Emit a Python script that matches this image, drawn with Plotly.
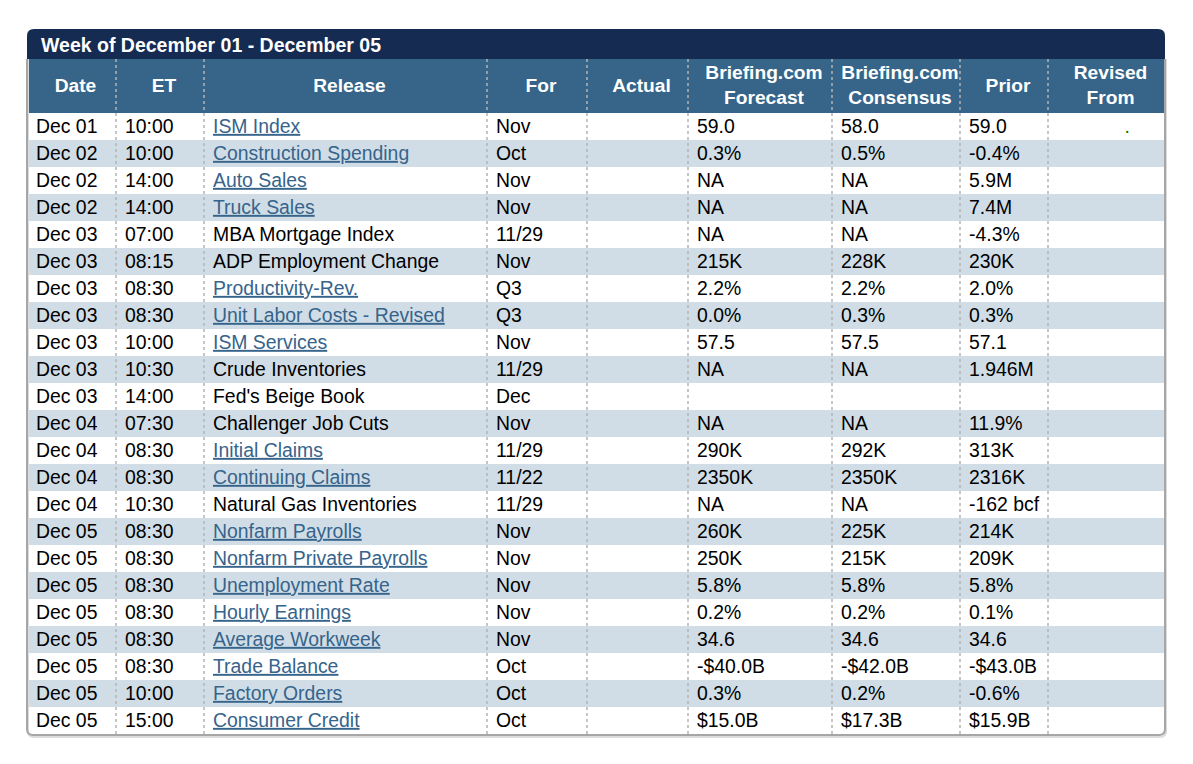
import plotly.graph_objects as go

# economic calendar, one entry per row
dates = ["Dec 01", "Dec 02", "Dec 02", "Dec 02", "Dec 03", "Dec 03", "Dec 03", "Dec 03",
         "Dec 03", "Dec 03", "Dec 03", "Dec 04", "Dec 04", "Dec 04", "Dec 04", "Dec 05",
         "Dec 05", "Dec 05", "Dec 05", "Dec 05", "Dec 05", "Dec 05", "Dec 05"]
times = ["10:00", "10:00", "14:00", "14:00", "07:00", "08:15", "08:30", "08:30",
         "10:00", "10:30", "14:00", "07:30", "08:30", "08:30", "10:30", "08:30",
         "08:30", "08:30", "08:30", "08:30", "08:30", "10:00", "15:00"]
releases = ["ISM Index", "Construction Spending", "Auto Sales", "Truck Sales",
            "MBA Mortgage Index", "ADP Employment Change", "Productivity-Rev.",
            "Unit Labor Costs - Revised", "ISM Services", "Crude Inventories",
            "Fed's Beige Book", "Challenger Job Cuts", "Initial Claims", "Continuing Claims",
            "Natural Gas Inventories", "Nonfarm Payrolls", "Nonfarm Private Payrolls",
            "Unemployment Rate", "Hourly Earnings", "Average Workweek", "Trade Balance",
            "Factory Orders", "Consumer Credit"]
is_link = [True, True, True, True, False, False, True, True, True, False, False, False,
           True, True, False, True, True, True, True, True, True, True, True]
periods = ["Nov", "Oct", "Nov", "Nov", "11/29", "Nov", "Q3", "Q3", "Nov", "11/29", "Dec",
           "Nov", "11/29", "11/22", "11/29", "Nov", "Nov", "Nov", "Nov", "Nov", "Oct",
           "Oct", "Oct"]
actual = ["", "", "", "", "", "", "", "", "", "", "", "", "", "", "", "", "", "", "", "",
          "", "", ""]
forecast = ["59.0", "0.3%", "NA", "NA", "NA", "215K", "2.2%", "0.0%", "57.5", "NA", "",
            "NA", "290K", "2350K", "NA", "260K", "250K", "5.8%", "0.2%", "34.6",
            "-$40.0B", "0.3%", "$15.0B"]
consensus = ["58.0", "0.5%", "NA", "NA", "NA", "228K", "2.2%", "0.3%", "57.5", "NA", "",
             "NA", "292K", "2350K", "NA", "225K", "215K", "5.8%", "0.2%", "34.6",
             "-$42.0B", "0.2%", "$17.3B"]
prior = ["59.0", "-0.4%", "5.9M", "7.4M", "-4.3%", "230K", "2.0%", "0.3%", "57.1",
         "1.946M", "", "11.9%", "313K", "2316K", "-162 bcf", "214K", "209K", "5.8%",
         "0.1%", "34.6", "-$43.0B", "-0.6%", "$15.9B"]
revised = [".", "", "", "", "", "", "", "", "", "", "", "", "", "", "", "", "", "", "",
           "", "", "", ""]

title = "Week of December 01 - December 05"
headers = ["Date", "ET", "Release", "For", "Actual", "Briefing.com<br>Forecast",
           "Briefing.com<br>Consensus", "Prior", "Revised<br>From"]

# layout (page pixels; the page body adds an 8px offset)
W, H = 1193, 764
OFF = 8
edges = [27, 116, 204, 487, 587, 688, 832, 960, 1048, 1165]
TITLE_TOP, HEAD_TOP, BODY_TOP, ROW_H = 29, 59, 113, 27
PAD = 9
FONT = "Liberation Sans, Arial, sans-serif"
NAVY = "#152b52"
STEEL = "#366589"
STRIPE = "#d0dde6"
LINK = "#36648b"

n = len(dates)
body_bottom = BODY_TOP + n * ROW_H
# text sits a touch below the geometric row centre
row_mid = [BODY_TOP + ROW_H * i + ROW_H / 2 + 1.5 for i in range(n)]

fig = go.Figure()

shapes = []
# zebra stripes
for i in range(n):
    if i % 2 == 1:
        shapes.append(dict(type="rect", xref="x", yref="y", x0=edges[0], x1=edges[-1],
                           y0=BODY_TOP + i * ROW_H, y1=BODY_TOP + (i + 1) * ROW_H,
                           fillcolor=STRIPE, line_width=0, layer="below"))
# header band
shapes.append(dict(type="rect", xref="x", yref="y", x0=edges[0], x1=edges[-1],
                   y0=HEAD_TOP, y1=BODY_TOP, fillcolor=STEEL, line_width=0, layer="below"))
# title band with rounded top corners
r = 7
x0, x1 = edges[0], edges[-1]
shapes.append(dict(type="path", xref="x", yref="y",
                   path=f"M {x0},{HEAD_TOP} L {x0},{TITLE_TOP + r} Q {x0},{TITLE_TOP} {x0 + r},{TITLE_TOP} "
                        f"L {x1 - r},{TITLE_TOP} Q {x1},{TITLE_TOP} {x1},{TITLE_TOP + r} L {x1},{HEAD_TOP} Z",
                   fillcolor=NAVY, line_width=0, layer="below"))
# dotted column separators
for x in edges[1:-1]:
    shapes.append(dict(type="line", xref="x", yref="y", x0=x, x1=x, y0=HEAD_TOP,
                       y1=body_bottom, line=dict(color="#b4b4b4", width=1.5, dash="dot")))
# frame + soft shadow
rb = 6
shapes.append(dict(type="path", xref="x", yref="y",
                   path=f"M {x0 + 1},{HEAD_TOP} L {x0 + 1},{body_bottom + 3 - rb} "
                        f"Q {x0 + 1},{body_bottom + 3} {x0 + 1 + rb},{body_bottom + 3} "
                        f"L {x1 + 1 - rb},{body_bottom + 3} Q {x1 + 1},{body_bottom + 3} "
                        f"{x1 + 1},{body_bottom + 3 - rb} L {x1 + 1},{HEAD_TOP}",
                   line=dict(color="#dcdcdc", width=2)))
shapes.append(dict(type="path", xref="x", yref="y",
                   path=f"M {x0},{HEAD_TOP} L {x0},{body_bottom + 1 - rb} "
                        f"Q {x0},{body_bottom + 1} {x0 + rb},{body_bottom + 1} "
                        f"L {x1 - rb},{body_bottom + 1} Q {x1},{body_bottom + 1} "
                        f"{x1},{body_bottom + 1 - rb} L {x1},{HEAD_TOP}",
                   line=dict(color="#a6a6a6", width=2)))

# body text, one trace per column
release_txt = [f"<u>{t}</u>" if lk else t for t, lk in zip(releases, is_link)]
release_col = [LINK if lk else "black" for lk in is_link]
columns = [dates, times, release_txt, periods, actual, forecast, consensus, prior]
for c, vals in enumerate(columns):
    fig.add_trace(go.Scatter(
        x=[edges[c] + PAD] * n, y=row_mid, mode="text", text=vals,
        textposition="middle right",
        textfont=dict(family=FONT, size=19.4, color=release_col if c == 2 else "black"),
        hoverinfo="skip", showlegend=False))
fig.add_trace(go.Scatter(
    x=[edges[-1] - 35] * n, y=row_mid, mode="text", text=revised,
    textposition="middle left", textfont=dict(family=FONT, size=19.4, color="#008000"),
    hoverinfo="skip", showlegend=False))

# header labels
fig.add_trace(go.Scatter(
    x=[(a + b) / 2 + 4 for a, b in zip(edges[:-1], edges[1:])], y=[87] * len(headers),
    mode="text", text=[f"<b>{h}</b>" for h in headers], textposition="middle center",
    textfont=dict(family=FONT, size=19.2, color="white"), hoverinfo="skip", showlegend=False))

fig.update_layout(
    width=W, height=H, margin=dict(l=0, r=0, t=0, b=0),
    paper_bgcolor="white", plot_bgcolor="white", shapes=shapes,
    xaxis=dict(range=[OFF, W + OFF], visible=False, fixedrange=True),
    yaxis=dict(range=[H + OFF, OFF], visible=False, fixedrange=True),
    annotations=[dict(x=39, y=(TITLE_TOP + HEAD_TOP) / 2 + 0.5, xref="x", yref="y",
                      text=f"<b>{title}</b>", showarrow=False, xanchor="left", yanchor="middle",
                      font=dict(family=FONT, size=19.5, color="white"))],
)

fig.write_html("out.html")
